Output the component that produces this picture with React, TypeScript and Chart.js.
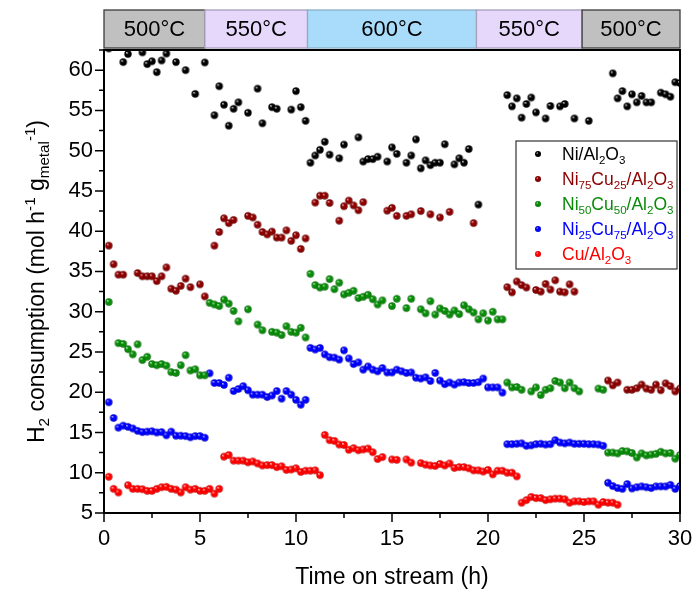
import React, { useEffect, useRef } from 'react';
import { Chart, registerables } from 'chart.js';

Chart.register(...registerables);

const FONT = '"Liberation Sans", Arial, Helvetica, sans-serif';

// [time on stream (h), H2 consumption (mol h-1 gmetal-1)]
const niData: [number, number][] = [
  [0.25, 62.7], [1, 61.0], [1.25, 62.0], [2, 62.2], [2.25, 60.75], [2.5, 61.1], [2.75, 59.75], [3, 61.2], [3.25, 62.05], [3.75, 61.0], [4.25, 60.0], [4.75, 57.05], [5.25, 60.95],
  [5.75, 54.4], [6, 58.0], [6.25, 55.7], [6.5, 53.1], [6.75, 55.2], [7, 56.0], [7.5, 54.7], [8, 57.7], [8.25, 53.4], [8.75, 55.4], [9, 55.2], [9.75, 55.1], [10, 57.4], [10.25, 55.4], [10.5, 53.7],
  [10.75, 48.5], [11, 49.4], [11.25, 50.1], [11.5, 51.1], [11.75, 49.5], [12.25, 49.05], [12.5, 50.75], [13.25, 51.65], [13.5, 48.65], [13.75, 48.95], [14, 48.95], [14.25, 49.25], [14.75, 48.65], [15, 50.4], [15.25, 49.6], [15.75, 48.5], [16, 49.4], [16.25, 51.4], [16.5, 47.8], [16.75, 48.8], [17, 48.2], [17.25, 48.5], [17.5, 48.5], [17.75, 50.8], [18.25, 48.3], [18.5, 49.05], [18.75, 48.5], [19, 50.2], [19.5, 43.3],
  [21, 56.9], [21.25, 55.5], [21.5, 56.5], [21.75, 54.1], [22, 55.8], [22.25, 56.6], [22.5, 54.75], [23, 54.0], [23.25, 55.55], [23.75, 55.5], [24, 55.8], [24.5, 54.0], [25.25, 53.7],
  [26.5, 59.6], [26.75, 56.5], [27, 57.4], [27.25, 55.5], [27.5, 57.0], [27.75, 56.0], [28, 56.8], [28.25, 56.0], [28.5, 56.0], [29, 57.2], [29.25, 57.0], [29.5, 56.7], [29.75, 58.5], [30, 58.4],
];

const ni75Data: [number, number][] = [
  [0.25, 38.2], [0.5, 35.9], [0.75, 34.6], [1, 34.6], [1.75, 34.8], [2, 34.4], [2.25, 34.4], [2.5, 34.4], [2.75, 33.8], [3, 34.4], [3.25, 35.5], [3.5, 32.85], [3.75, 32.6], [4, 33.2], [4.25, 34.1], [4.5, 33.05], [5, 33.4], [5.25, 31.9],
  [5.75, 38.2], [6, 39.9], [6.25, 41.6], [6.5, 41.0], [6.75, 41.4], [7.5, 41.9], [7.75, 41.7], [8, 40.8], [8.25, 39.9], [8.5, 39.6], [8.75, 39.95], [9, 39.2], [9.25, 39.2], [9.5, 40.1], [9.75, 38.8], [10, 39.5], [10.25, 37.8], [10.5, 39.1],
  [11, 43.55], [11.25, 44.4], [11.5, 44.4], [11.75, 43.5], [12.25, 41.3], [12.5, 43.1], [12.75, 43.8], [13, 43.2], [13.25, 42.6], [13.5, 43.6], [14.75, 42.55], [15, 42.9], [15.25, 41.9], [15.75, 41.9], [16, 42.1], [16.5, 42.5], [17, 42.1], [17.5, 41.7], [18, 42.4], [19.25, 41.0],
  [21, 33.05], [21.25, 32.4], [21.5, 33.75], [21.75, 33.3], [22, 33.0], [22.5, 32.7], [22.75, 32.5], [23, 33.45], [23.25, 32.75], [23.5, 33.9], [23.75, 32.5], [24, 32.4], [24.25, 33.4], [24.5, 32.5],
  [26.25, 21.45], [26.5, 20.85], [26.75, 21.2], [27.25, 20.3], [27.5, 20.3], [27.75, 20.5], [28, 20.95], [28.25, 20.45], [28.5, 20.3], [28.75, 20.95], [29, 20.25], [29.25, 21.1], [29.5, 20.75], [29.75, 20.1], [30, 20.45],
];

const ni50Data: [number, number][] = [
  [0.25, 31.2], [0.75, 26.1], [1, 26.0], [1.25, 25.35], [1.5, 24.7], [1.75, 25.95], [2, 24.0], [2.25, 24.4], [2.5, 23.5], [2.75, 23.35], [3, 23.5], [3.25, 23.3], [3.5, 22.5], [3.75, 22.4], [4, 23.35], [4.25, 24.6], [4.5, 22.7], [4.75, 22.85], [5, 22.1], [5.25, 22.1],
  [5.5, 31.1], [5.75, 30.9], [6, 30.7], [6.25, 31.5], [6.5, 31.0], [6.75, 30.1], [7, 28.8], [7.5, 30.3], [8, 28.4], [8.25, 27.7], [8.75, 27.5], [9, 27.4], [9.25, 27.1], [9.5, 28.2], [9.75, 27.5], [10, 27.4], [10.25, 28.0], [10.5, 26.8],
  [10.75, 34.7], [11, 33.3], [11.25, 33.0], [11.5, 33.1], [11.75, 34.05], [12, 32.8], [12.25, 33.6], [12.5, 32.15], [12.75, 32.35], [13, 32.6], [13.25, 31.7], [13.5, 31.85], [13.75, 32.1], [14, 31.55], [14.25, 30.9], [14.5, 31.4], [15, 30.7], [15.25, 31.6], [15.75, 30.45], [16, 31.6], [16.5, 30.3], [16.75, 29.8], [17, 31.3], [17.25, 29.65], [17.5, 30.4], [17.75, 30.1], [18, 29.65], [18.25, 30.15], [18.5, 29.7], [18.75, 30.8], [19, 30.3], [19.25, 29.9], [19.5, 29.05], [19.75, 29.8], [20, 28.9], [20.25, 30.0], [20.5, 29.05], [20.75, 29.05],
  [21, 21.2], [21.25, 20.6], [21.5, 20.65], [21.75, 20.3], [22.25, 20.1], [22.5, 20.6], [22.75, 19.65], [23, 20.3], [23.25, 20.5], [23.5, 21.4], [23.75, 21.2], [24, 20.5], [24.25, 21.2], [24.5, 20.5], [24.75, 20.1], [25.75, 20.45], [26, 20.3],
  [26.25, 12.5], [26.5, 12.5], [26.75, 12.4], [27, 12.7], [27.25, 12.65], [27.5, 12.45], [27.75, 11.9], [28, 12.4], [28.25, 12.15], [28.5, 12.25], [28.75, 12.35], [29, 12.6], [29.25, 12.4], [29.5, 12.45], [29.75, 11.75], [30, 12.2],
];

const ni25Data: [number, number][] = [
  [0.25, 18.75], [0.5, 16.8], [0.75, 15.6], [1, 15.85], [1.25, 15.7], [1.5, 15.5], [1.75, 15.2], [2, 15.05], [2.25, 15.1], [2.5, 15.15], [2.75, 15.0], [3, 15.05], [3.25, 14.65], [3.5, 15.1], [3.75, 14.6], [4, 14.6], [4.25, 14.55], [4.5, 14.4], [4.75, 14.55], [5, 14.55], [5.25, 14.35],
  [5.5, 22.35], [5.75, 21.15], [6, 21.15], [6.25, 20.9], [6.5, 21.8], [6.75, 20.15], [7, 20.4], [7.25, 20.75], [7.5, 20.25], [7.75, 19.7], [8, 19.7], [8.25, 19.7], [8.5, 19.4], [8.75, 19.6], [9, 20.15], [9.25, 19.2], [9.5, 20.15], [9.75, 19.7], [10, 19.05], [10.25, 18.45], [10.5, 19.05],
  [10.75, 25.5], [11, 25.3], [11.25, 25.5], [11.5, 24.7], [11.75, 24.35], [12, 24.3], [12.25, 24.05], [12.5, 25.2], [12.75, 24.2], [13, 23.5], [13.25, 23.7], [13.5, 22.8], [13.75, 23.2], [14, 22.8], [14.25, 22.6], [14.5, 23.0], [14.75, 22.45], [15, 22.45], [15.25, 22.8], [15.5, 22.6], [15.75, 22.4], [16, 22.45], [16.25, 21.8], [16.5, 21.7], [16.75, 21.85], [17, 21.4], [17.25, 22.4], [17.5, 21.45], [17.75, 21.0], [18, 21.2], [18.25, 20.95], [18.5, 21.2], [18.75, 21.25], [19, 21.15], [19.25, 21.15], [19.5, 21.25], [19.75, 21.7], [20, 20.6], [20.25, 20.6], [20.5, 20.6], [20.75, 19.95],
  [21, 13.55], [21.25, 13.55], [21.5, 13.6], [21.75, 13.65], [22, 13.35], [22.25, 13.4], [22.5, 13.55], [22.75, 13.6], [23, 13.5], [23.25, 13.55], [23.5, 14.05], [23.75, 13.75], [24, 13.65], [24.25, 13.75], [24.5, 13.6], [24.75, 13.6], [25, 13.6], [25.25, 13.55], [25.5, 13.55], [25.75, 13.5], [26, 13.35],
  [26.25, 8.75], [26.5, 8.35], [26.75, 8.1], [27, 8.0], [27.25, 8.6], [27.5, 8.05], [27.75, 8.2], [28, 8.3], [28.25, 8.2], [28.5, 8.1], [28.75, 8.3], [29, 8.3], [29.25, 8.3], [29.5, 8.5], [29.75, 8.0], [30, 8.35],
];

const cuData: [number, number][] = [
  [0.25, 9.5], [0.5, 8.0], [0.75, 7.55], [1.25, 8.45], [1.5, 8.0], [1.75, 8.0], [2, 7.95], [2.25, 7.75], [2.5, 7.75], [2.75, 8.0], [3, 8.2], [3.25, 8.25], [3.5, 8.0], [3.75, 7.9], [4, 7.55], [4.25, 8.2], [4.5, 7.9], [4.75, 8.0], [5, 7.75], [5.25, 7.75], [5.5, 8.0], [5.75, 7.4], [6, 8.0],
  [6.25, 12.0], [6.5, 12.2], [6.75, 11.5], [7, 11.5], [7.25, 11.5], [7.5, 11.3], [7.75, 11.4], [8, 11.15], [8.25, 10.9], [8.5, 10.95], [8.75, 10.95], [9, 10.7], [9.25, 10.8], [9.5, 10.35], [9.75, 10.4], [10, 10.55], [10.25, 10.1], [10.5, 10.25], [10.75, 10.25], [11, 10.3], [11.25, 9.7],
  [11.5, 14.7], [11.75, 14.05], [12, 13.95], [12.25, 13.5], [12.5, 13.45], [12.75, 12.85], [13, 13.05], [13.25, 12.8], [13.5, 12.9], [13.75, 13.0], [14, 12.55], [14.25, 11.7], [14.5, 11.95], [15, 11.65], [15.25, 11.6], [15.75, 11.65], [16, 11.25], [16.5, 11.2], [16.75, 11.0], [17, 10.9], [17.25, 10.85], [17.5, 11.1], [17.75, 10.9], [18, 11.15], [18.25, 10.6], [18.5, 10.7], [18.75, 10.7], [19, 10.55], [19.25, 10.3], [19.5, 10.3], [19.75, 10.15], [20, 10.35], [20.25, 9.8], [20.5, 10.25], [20.75, 10.25], [21, 10.0], [21.25, 10.0], [21.5, 9.55],
  [21.75, 6.28], [22, 6.6], [22.25, 7.0], [22.5, 6.85], [22.75, 6.85], [23, 6.6], [23.25, 6.7], [23.5, 6.78], [23.75, 6.78], [24, 6.7], [24.25, 6.28], [24.5, 6.45], [24.75, 6.45], [25, 6.37], [25.25, 6.45], [25.5, 6.45], [25.75, 6.03], [26, 6.37], [26.25, 6.28], [26.5, 6.28], [26.75, 6.03],
];

const xTickValues = [0, 5, 10, 15, 20, 25, 30];
const yTickValues = [5, 10, 15, 20, 25, 30, 35, 40, 45, 50, 55, 60];

// temperature programme (h)
const tempEdges = [0, 5.25, 10.6, 19.4, 24.9, 30];
const tempLabels = ['500°C', '550°C', '600°C', '550°C', '500°C'];

type Seg = { t: string; k?: 'sub' | 'sup' };

const seriesLabels: Seg[][] = [
  [{ t: 'Ni/Al' }, { t: '2', k: 'sub' }, { t: 'O' }, { t: '3', k: 'sub' }],
  [{ t: 'Ni' }, { t: '75', k: 'sub' }, { t: 'Cu' }, { t: '25', k: 'sub' }, { t: '/Al' }, { t: '2', k: 'sub' }, { t: 'O' }, { t: '3', k: 'sub' }],
  [{ t: 'Ni' }, { t: '50', k: 'sub' }, { t: 'Cu' }, { t: '50', k: 'sub' }, { t: '/Al' }, { t: '2', k: 'sub' }, { t: 'O' }, { t: '3', k: 'sub' }],
  [{ t: 'Ni' }, { t: '25', k: 'sub' }, { t: 'Cu' }, { t: '75', k: 'sub' }, { t: '/Al' }, { t: '2', k: 'sub' }, { t: 'O' }, { t: '3', k: 'sub' }],
  [{ t: 'Cu/Al' }, { t: '2', k: 'sub' }, { t: 'O' }, { t: '3', k: 'sub' }],
];

const yTitle: Seg[] = [
  { t: 'H' }, { t: '2', k: 'sub' }, { t: ' consumption (mol h' }, { t: '-1', k: 'sup' },
  { t: ' g' }, { t: 'metal', k: 'sub' }, { t: '-1', k: 'sup' }, { t: ')' },
];
const xTitle = 'Time on stream (h)';

const seriesColors = ['#000000', '#8b0000', '#0a8a0a', '#0000ff', '#ff0000'];
const seriesDark = ['#000000', '#5a0000', '#056005', '#0000b0', '#b80000'];
const seriesLight = ['#909090', '#d07070', '#70d070', '#7070ff', '#ff8080'];
const bandFill = ['#c0c0c0', '#e6d8fb', '#a8dcfa', '#e6d8fb', '#c0c0c0'];
const bandStroke = ['#3c3c3c', '#a8a0b8', '#8ab0c8', '#a8a0b8', '#3c3c3c'];

function makeSphere(color: string, light: string, dark: string, r: number) {
  const s = Math.ceil(r * 2) + 2;
  const c = document.createElement('canvas');
  c.width = s;
  c.height = s;
  const g = c.getContext('2d')!;
  const cx = s / 2, cy = s / 2;
  const grad = g.createRadialGradient(cx - r * 0.35, cy - r * 0.4, 0, cx, cy, r);
  grad.addColorStop(0, '#ffffff');
  grad.addColorStop(0.15, light);
  grad.addColorStop(0.4, color);
  grad.addColorStop(0.85, color);
  grad.addColorStop(1, dark);
  g.fillStyle = grad;
  g.beginPath();
  g.arc(cx, cy, r, 0, Math.PI * 2);
  g.fill();
  return c;
}

function segFont(size: number, k?: string) {
  const s = k ? size * 0.66 : size;
  return `${s}px ${FONT}`;
}

function drawRich(ctx: CanvasRenderingContext2D, segs: Seg[], x: number, yMid: number, size: number, color: string, align: 'left' | 'center') {
  ctx.save();
  ctx.fillStyle = color;
  ctx.textBaseline = 'alphabetic';
  ctx.textAlign = 'left';
  let total = 0;
  for (const s of segs) {
    ctx.font = segFont(size, s.k);
    total += ctx.measureText(s.t).width;
  }
  let cx = align === 'center' ? x - total / 2 : x;
  const base = yMid + size * 0.36;
  for (const s of segs) {
    ctx.font = segFont(size, s.k);
    const dy = s.k === 'sub' ? size * 0.22 : s.k === 'sup' ? -size * 0.4 : 0;
    ctx.fillText(s.t, cx, base + dy);
    cx += ctx.measureText(s.t).width;
  }
  ctx.restore();
}

const decorPlugin = {
  id: 'decor',
  afterDraw(chart: any) {
    const { ctx, chartArea } = chart;
    const xs = chart.scales.x;
    const ys = chart.scales.y;
    const { left, right, top, bottom } = chartArea;
    ctx.save();

    // temperature band
    const bTop = 10, bBot = 48;
    for (let i = 0; i < tempLabels.length; i++) {
      const x0 = xs.getPixelForValue(tempEdges[i]);
      const x1 = xs.getPixelForValue(tempEdges[i + 1]);
      ctx.fillStyle = bandFill[i];
      ctx.fillRect(x0, bTop, x1 - x0, bBot - bTop);
      ctx.strokeStyle = bandStroke[i];
      ctx.lineWidth = 1.3;
      ctx.strokeRect(x0, bTop, x1 - x0, bBot - bTop);
      ctx.fillStyle = '#000';
      ctx.font = `22px ${FONT}`;
      ctx.textAlign = 'center';
      ctx.textBaseline = 'middle';
      ctx.fillText(tempLabels[i], (x0 + x1) / 2, (bTop + bBot) / 2 + 1);
    }

    // frame
    ctx.strokeStyle = '#000';
    ctx.lineWidth = 2;
    ctx.strokeRect(left, top, right - left, bottom - top);

    // ticks
    ctx.lineWidth = 1.5;
    ctx.beginPath();
    const xStep = xTickValues[1] - xTickValues[0];
    for (const v of xTickValues) {
      const p = xs.getPixelForValue(v);
      ctx.moveTo(p, bottom);
      ctx.lineTo(p, bottom + 9);
      if (v + xStep / 2 <= xs.max) {
        const q = xs.getPixelForValue(v + xStep / 2);
        ctx.moveTo(q, bottom);
        ctx.lineTo(q, bottom + 5);
      }
    }
    const yStep = yTickValues[1] - yTickValues[0];
    for (const v of yTickValues) {
      const p = ys.getPixelForValue(v);
      ctx.moveTo(left, p);
      ctx.lineTo(left - 9, p);
      if (v + yStep / 2 <= ys.max) {
        const q = ys.getPixelForValue(v + yStep / 2);
        ctx.moveTo(left, q);
        ctx.lineTo(left - 5, q);
      }
    }
    ctx.stroke();

    // axis titles
    ctx.fillStyle = '#000';
    ctx.font = `23px ${FONT}`;
    ctx.textAlign = 'center';
    ctx.textBaseline = 'middle';
    ctx.fillText(xTitle, (left + right) / 2, 578);

    ctx.save();
    ctx.translate(36, (top + bottom) / 2);
    ctx.rotate(-Math.PI / 2);
    drawRich(ctx, yTitle, 0, 0, 23, '#000', 'center');
    ctx.restore();

    // legend
    const lx = 516, ly = 141, lw = 161, lh = 128;
    ctx.fillStyle = '#fff';
    ctx.fillRect(lx, ly, lw, lh);
    ctx.strokeStyle = '#333';
    ctx.lineWidth = 1.2;
    ctx.strokeRect(lx, ly, lw, lh);
    for (let i = 0; i < seriesLabels.length; i++) {
      const cy = ly + 13 + i * 25;
      const img = makeSphere(seriesColors[i], seriesLight[i], seriesDark[i], 3);
      ctx.drawImage(img, lx + 22 - img.width / 2, cy - img.height / 2);
      drawRich(ctx, seriesLabels[i], lx + 46, cy, 17.5, seriesColors[i], 'left');
    }
    ctx.restore();
  },
};

export default function App() {
  const ref = useRef<HTMLCanvasElement>(null);
  useEffect(() => {
    const canvas = ref.current!;
    const all = [niData, ni75Data, ni50Data, ni25Data, cuData];
    const datasets = all.map((d, i) => ({
      label: seriesLabels[i].map((s) => s.t).join(''),
      data: d.map(([x, y]) => ({ x, y })),
      pointStyle: makeSphere(seriesColors[i], seriesLight[i], seriesDark[i], 3.7) as any,
      pointRadius: 3.7,
      pointHoverRadius: 3.7,
      backgroundColor: seriesColors[i],
      borderColor: seriesColors[i],
      showLine: false,
      clip: 0,
    }));
    const chart = new Chart(canvas, {
      type: 'scatter',
      data: { datasets },
      options: {
        responsive: false,
        animation: false,
        events: [],
        layout: { padding: { top: 50, right: 17, left: 0, bottom: 0 } },
        plugins: { legend: { display: false }, tooltip: { enabled: false } },
        scales: {
          x: {
            type: 'linear',
            min: 0,
            max: 30,
            afterBuildTicks: (s: any) => {
              s.ticks = xTickValues.map((v) => ({ value: v }));
            },
            afterFit: (s: any) => {
              s.height = 84;
            },
            grid: { display: false, drawTicks: true, tickLength: 9 },
            border: { display: false },
            ticks: { font: { family: FONT, size: 22 }, color: '#000', padding: 4, maxRotation: 0, autoSkip: false },
          },
          y: {
            type: 'linear',
            min: 5,
            max: 62.5,
            afterBuildTicks: (s: any) => {
              s.ticks = yTickValues.map((v) => ({ value: v }));
            },
            afterFit: (s: any) => {
              s.width = 104;
            },
            grid: { display: false, drawTicks: true, tickLength: 9 },
            border: { display: false },
            ticks: { font: { family: FONT, size: 22 }, color: '#000', padding: 2, autoSkip: false },
          },
        },
      },
      plugins: [decorPlugin],
    });
    return () => chart.destroy();
  }, []);
  return (
    <div style={{ position: 'absolute', left: 0, top: 0, width: 697, height: 597, background: '#fff' }}>
      <canvas ref={ref} width={697} height={597} />
    </div>
  );
}
